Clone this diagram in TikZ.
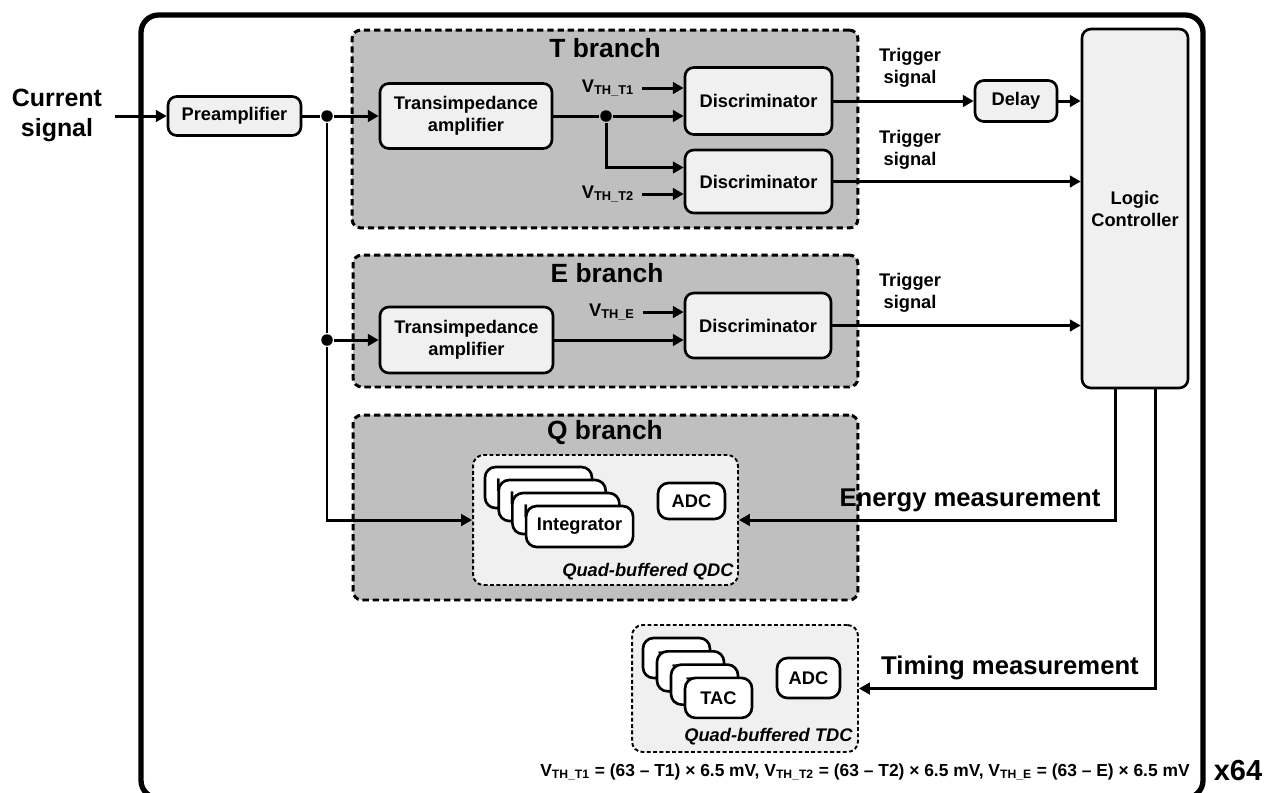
\documentclass[tikz,border=0pt]{standalone}
\usepackage{fontspec}
\setmainfont{Liberation Sans}
\usetikzlibrary{arrows.meta, calc}
\definecolor{cgroup}{HTML}{BFBFBF}
\definecolor{cbox}{HTML}{F0F0F0}
\tikzset{
  every picture/.style={line width=1.7pt},
  blk/.style={draw, fill=cbox, rounded corners=5pt, align=center, inner sep=0pt, line width=1.5pt, font=\bfseries\fontsize{10.4}{12.5}\selectfont},
  cell/.style={draw, fill=white, rounded corners=6pt, inner sep=0pt, line width=1.5pt, font=\bfseries\fontsize{10.4}{12.5}\selectfont},
  grp/.style={draw, fill=cgroup, rounded corners=5pt, line width=1.7pt, dash pattern=on 3.6pt off 2.2pt, inner sep=0pt},
  buf/.style={draw, fill=cbox, rounded corners=6pt, line width=1.1pt, dash pattern=on 2.2pt off 1.4pt, inner sep=0pt},
  title/.style={font=\bfseries\fontsize{15}{18}\selectfont},
  trig/.style={align=center, inner sep=0pt, font=\bfseries\fontsize{10.4}{12.5}\selectfont},
  vth/.style={inner sep=0pt, outer sep=4.5pt, font=\bfseries\fontsize{10.4}{12.5}\selectfont},
  note/.style={inner sep=0pt, font=\bfseries\itshape\fontsize{10.4}{12.5}\selectfont},
  meas/.style={inner sep=0pt, font=\bfseries\fontsize{14.6}{17}\selectfont},
  dot/.style={circle, fill, inner sep=0pt, minimum size=0.23cm},
  arr/.style={-{Triangle[length=6.2pt, width=6.6pt]}},
}
\begin{document}
\begin{tikzpicture}[x=0.02cm, y=-0.02cm]
  \useasboundingbox (0,0) rectangle (1266,792);
  % outer frame, one channel
  \draw[line width=3pt, rounded corners=10pt] (141,15) rectangle (1203,798);

  % branches
  \node[grp, minimum width=10.12cm, minimum height=3.96cm] (tgrp) at (605,129) {};
  \node[grp, minimum width=10.10cm, minimum height=2.64cm] (egrp) at (605.5,321) {};
  \node[grp, minimum width=10.10cm, minimum height=3.70cm] (qgrp) at (605.5,507.5) {};
  \node[title] (ttitle) at (605,48) {T branch};
  \node[title] (etitle) at (607,273) {E branch};
  \node[title] (qtitle) at (605,433) {Q branch};

  \node[align=center, inner sep=0pt, font=\bfseries\fontsize{14.2}{17}\selectfont] (cur) at (57,115) {Current\\signal};
  \coordinate (cin) at (115,116);
  \node[blk, minimum width=2.66cm, minimum height=0.78cm] (pre) at (234.5,116) {Preamplifier};
  \node[dot] (j1) at (327,116) {};
  \node[dot] (j2) at (327,340) {};

  % T branch
  \node[blk, minimum width=3.44cm, minimum height=1.30cm] (tiaT) at (466,116) {Transimpedance\\amplifier};
  \node[dot] (jT) at (606,116) {};
  \node[blk, minimum width=2.94cm, minimum height=1.34cm] (discA) at (758.5,101) {Discriminator};
  \node[blk, minimum width=2.94cm, minimum height=1.26cm] (discB) at (758.5,181.5) {Discriminator};
  \node[vth] (vT1) at (608,88) {V\textsubscript{TH\_T1}};
  \node[vth] (vT2) at (608,194) {V\textsubscript{TH\_T2}};

  \node[blk, minimum width=1.64cm, minimum height=0.82cm] (delay) at (1016,101) {Delay};
  \node[blk, minimum width=2.12cm, minimum height=7.18cm] (logic) at (1135,208.5) {Logic\\Controller};
  \node[trig] (trA) at (910,68) {Trigger\\signal};
  \node[trig] (trB) at (910,150) {Trigger\\signal};
  \node[trig] (trE) at (910,293) {Trigger\\signal};

  % E branch
  \node[blk, minimum width=3.46cm, minimum height=1.32cm] (tiaE) at (466.5,340) {Transimpedance\\amplifier};
  \node[blk, minimum width=2.92cm, minimum height=1.30cm] (discE) at (758,325.5) {Discriminator};
  \node[vth] (vE) at (612,312) {V\textsubscript{TH\_E}};

  % Q branch
  \node[buf, minimum width=5.30cm, minimum height=2.60cm] (qdc) at (605.5,520) {};
  \foreach \i in {0,...,3}
    \node[cell, minimum width=2.14cm, minimum height=0.82cm] (int\i) at (538.5+13.7*\i,487.5+13*\i) {Integrator};
  \node[cell, minimum width=1.34cm, minimum height=0.72cm] (adcQ) at (691.5,501) {ADC};
  \node[note, anchor=east] (qlab) at (735,572) {Quad-buffered QDC};

  % TDC
  \node[buf, minimum width=4.52cm, minimum height=2.54cm] (tdc) at (745,688.5) {};
  \foreach \i in {0,...,3}
    \node[cell, minimum width=1.34cm, minimum height=0.80cm] (tac\i) at (676.5+14*\i,658+13.3*\i) {TAC};
  \node[cell, minimum width=1.26cm, minimum height=0.80cm] (adcT) at (808.5,678) {ADC};
  \node[note, anchor=east] (tlab) at (854,737) {Quad-buffered TDC};

  \node[meas] (elab) at (970,500) {Energy measurement};
  \node[meas] (tilab) at (1010,668) {Timing measurement};

  \node[inner sep=0pt, font=\bfseries\fontsize{9.9}{11}\selectfont] (eq) at (865,772)
    {V\textsubscript{TH\_T1} = (63 – T1) × 6.5 mV, V\textsubscript{TH\_T2} = (63 – T2) × 6.5 mV, V\textsubscript{TH\_E} = (63 – E) × 6.5 mV};
  \node[inner sep=0pt, font=\bfseries\fontsize{16.5}{19}\selectfont] (x64) at (1238,770) {x64};

  % connectors
  \draw[arr] (cin) -- (pre);
  \draw (pre) -- (j1);
  \draw[arr] (j1) -- (tiaT);
  \draw (j1) -- (j2);
  \draw[arr] (j2) -- (tiaE);
  \draw[arr] (j2) |- (qdc);
  \draw (tiaT) -- (jT);
  \draw[arr] (jT) -- (jT -| discA.west);
  \draw[arr] (jT) |- ([yshift=0.28cm]discB.west);
  \draw[arr] (vT1) -- (vT1 -| discA.west);
  \draw[arr] (vT2) -- (vT2 -| discB.west);
  \draw[arr] (discA) -- (delay);
  \draw[arr] (delay) -- (delay -| logic.west);
  \draw[arr] (discB) -- (discB -| logic.west);
  \draw[arr] (tiaE) -- (tiaE -| discE.west);
  \draw[arr] (vE) -- (vE -| discE.west);
  \draw[arr] (discE) -- (discE -| logic.west);
  \draw[arr] ([xshift=-0.4cm]logic.south) |- (qdc);
  \draw[arr] ([xshift=0.4cm]logic.south) |- (tdc);
\end{tikzpicture}
\end{document}
